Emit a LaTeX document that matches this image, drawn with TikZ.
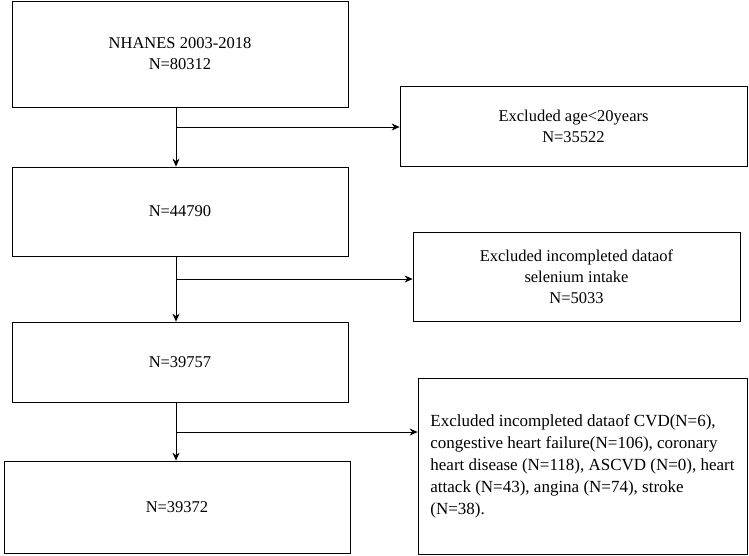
\documentclass[tikz,border=0pt]{standalone}
\usepackage{fontspec}
\setmainfont{Liberation Serif}
\usetikzlibrary{arrows.meta}
\tikzset{every picture/.style={line width=0.75pt}}
\tikzset{
  box/.style={draw, align=center, font=\fontsize{16.5}{21}\selectfont, inner sep=2pt},
  flow/.style={-{Stealth[length=8pt,width=7pt]}}
}
\begin{document}
\begin{tikzpicture}[x=1pt,y=1pt,yscale=-1]
  \useasboundingbox (0,0) rectangle (749,555);

  % main column
  \node[box, minimum width=336pt, minimum height=106pt] (total) at (180,54) {NHANES 2003-2018\\N=80312};
  \node[box, minimum width=336pt, minimum height=89pt] (adult) at (180,211.5) {N=44790};
  \node[box, minimum width=336pt, minimum height=80pt] (selen) at (180,362) {N=39757};
  \node[box, minimum width=346pt, minimum height=92pt] (final) at (177,507) {N=39372};

  % exclusions
  \node[box, minimum width=347pt, minimum height=80pt] (exage) at (573.5,126) {Excluded age\textless20years\\N=35522};
  \node[box, minimum width=327pt, minimum height=89pt] (exsel) at (576.5,276.5) {Excluded incompleted dataof\\selenium intake\\N=5033};
  \node[box, minimum width=329pt, minimum height=176pt, align=left, font=\fontsize{17}{22}\selectfont] (excvd) at (582.5,466) {Excluded incompleted dataof CVD(N=6),\\congestive heart failure(N=106), coronary\\heart disease (N=118), ASCVD (N=0), heart\\attack (N=43), angina (N=74), stroke\\(N=38).};

  % branch points
  \coordinate (b1) at (176,127);
  \coordinate (b2) at (176,279);
  \coordinate (b3) at (176,432);

  \draw[flow] (total.south -| b1) -- (adult.north -| b1);
  \draw[flow] (adult.south -| b2) -- (selen.north -| b2);
  \draw[flow] (selen.south -| b3) -- (final.north -| b3);
  \draw[flow] (b1) -- (b1 -| exage.west);
  \draw[flow] (b2) -- (b2 -| exsel.west);
  \draw[flow] (b3) -- (b3 -| excvd.west);
\end{tikzpicture}
\end{document}
